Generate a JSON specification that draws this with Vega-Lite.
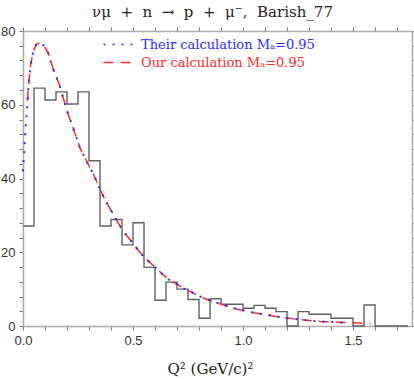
{
  "$schema": "https://vega.github.io/schema/vega-lite/v6.json",
  "width": 389,
  "height": 295,
  "autosize": {"type": "none"},
  "padding": {"left": 23, "top": 31, "right": 2, "bottom": 53},
  "title": {"text": "νμ\u00a0\u00a0+\u00a0\u00a0n\u00a0\u00a0→\u00a0\u00a0p\u00a0\u00a0+\u00a0\u00a0μ⁻,\u00a0\u00a0Barish_77", "font": "DejaVu Serif", "fontSize": 15, "fontWeight": "normal", "color": "#222", "anchor": "middle", "offset": 5, "dx": -5},
  "datasets": {
    "hist": [
      {"q2": 0.00, "n": 27.1}, {"q2": 0.05, "n": 64.5}, {"q2": 0.10, "n": 61.3}, {"q2": 0.15, "n": 63.5},
      {"q2": 0.20, "n": 60.2}, {"q2": 0.25, "n": 63.5}, {"q2": 0.30, "n": 44.8}, {"q2": 0.35, "n": 27.1},
      {"q2": 0.40, "n": 28.9}, {"q2": 0.45, "n": 22}, {"q2": 0.50, "n": 28}, {"q2": 0.55, "n": 15.9},
      {"q2": 0.60, "n": 7}, {"q2": 0.65, "n": 11.9}, {"q2": 0.70, "n": 10}, {"q2": 0.75, "n": 7.2},
      {"q2": 0.80, "n": 2.1}, {"q2": 0.85, "n": 7.4}, {"q2": 0.90, "n": 5.9}, {"q2": 0.95, "n": 5.9},
      {"q2": 1.00, "n": 4.8}, {"q2": 1.05, "n": 5.6}, {"q2": 1.10, "n": 4.8}, {"q2": 1.15, "n": 3.9},
      {"q2": 1.20, "n": 0}, {"q2": 1.25, "n": 3.9}, {"q2": 1.30, "n": 3.2}, {"q2": 1.35, "n": 3.2},
      {"q2": 1.40, "n": 2.1}, {"q2": 1.45, "n": 2.1}, {"q2": 1.50, "n": 0}, {"q2": 1.55, "n": 5.7},
      {"q2": 1.60, "n": 0}, {"q2": 1.75, "n": 0}
    ],
    "curves": [
      {"series": "Their calculation Mₐ=0.95", "q2": 0.000, "y": 42},
      {"series": "Their calculation Mₐ=0.95", "q2": 0.005, "y": 47},
      {"series": "Their calculation Mₐ=0.95", "q2": 0.010, "y": 52},
      {"series": "Their calculation Mₐ=0.95", "q2": 0.015, "y": 56},
      {"series": "Their calculation Mₐ=0.95", "q2": 0.020, "y": 60.5},
      {"series": "Their calculation Mₐ=0.95", "q2": 0.027, "y": 66.5},
      {"series": "Their calculation Mₐ=0.95", "q2": 0.035, "y": 71},
      {"series": "Their calculation Mₐ=0.95", "q2": 0.047, "y": 74.5},
      {"series": "Their calculation Mₐ=0.95", "q2": 0.060, "y": 76.3},
      {"series": "Their calculation Mₐ=0.95", "q2": 0.077, "y": 76.8},
      {"series": "Their calculation Mₐ=0.95", "q2": 0.095, "y": 76},
      {"series": "Their calculation Mₐ=0.95", "q2": 0.115, "y": 74},
      {"series": "Their calculation Mₐ=0.95", "q2": 0.138, "y": 69.6},
      {"series": "Their calculation Mₐ=0.95", "q2": 0.165, "y": 65.5},
      {"series": "Their calculation Mₐ=0.95", "q2": 0.199, "y": 58.5},
      {"series": "Their calculation Mₐ=0.95", "q2": 0.236, "y": 52.3},
      {"series": "Their calculation Mₐ=0.95", "q2": 0.259, "y": 48.3},
      {"series": "Their calculation Mₐ=0.95", "q2": 0.290, "y": 44.6},
      {"series": "Their calculation Mₐ=0.95", "q2": 0.320, "y": 41.2},
      {"series": "Their calculation Mₐ=0.95", "q2": 0.358, "y": 36},
      {"series": "Their calculation Mₐ=0.95", "q2": 0.377, "y": 33.8},
      {"series": "Their calculation Mₐ=0.95", "q2": 0.414, "y": 29.9},
      {"series": "Their calculation Mₐ=0.95", "q2": 0.453, "y": 25.9},
      {"series": "Their calculation Mₐ=0.95", "q2": 0.499, "y": 22.5},
      {"series": "Their calculation Mₐ=0.95", "q2": 0.524, "y": 20.5},
      {"series": "Their calculation Mₐ=0.95", "q2": 0.550, "y": 18.7},
      {"series": "Their calculation Mₐ=0.95", "q2": 0.577, "y": 17.2},
      {"series": "Their calculation Mₐ=0.95", "q2": 0.605, "y": 15.7},
      {"series": "Their calculation Mₐ=0.95", "q2": 0.633, "y": 14.1},
      {"series": "Their calculation Mₐ=0.95", "q2": 0.665, "y": 12.5},
      {"series": "Their calculation Mₐ=0.95", "q2": 0.699, "y": 11.4},
      {"series": "Their calculation Mₐ=0.95", "q2": 0.729, "y": 10.2},
      {"series": "Their calculation Mₐ=0.95", "q2": 0.759, "y": 9.4},
      {"series": "Their calculation Mₐ=0.95", "q2": 0.797, "y": 8.2},
      {"series": "Their calculation Mₐ=0.95", "q2": 0.832, "y": 7.3},
      {"series": "Their calculation Mₐ=0.95", "q2": 0.868, "y": 6.6},
      {"series": "Their calculation Mₐ=0.95", "q2": 0.903, "y": 5.9},
      {"series": "Their calculation Mₐ=0.95", "q2": 0.941, "y": 5.1},
      {"series": "Their calculation Mₐ=0.95", "q2": 0.979, "y": 4.5},
      {"series": "Their calculation Mₐ=0.95", "q2": 1.014, "y": 4.1},
      {"series": "Their calculation Mₐ=0.95", "q2": 1.055, "y": 3.5},
      {"series": "Their calculation Mₐ=0.95", "q2": 1.090, "y": 3.2},
      {"series": "Their calculation Mₐ=0.95", "q2": 1.130, "y": 2.8},
      {"series": "Their calculation Mₐ=0.95", "q2": 1.170, "y": 2.4},
      {"series": "Their calculation Mₐ=0.95", "q2": 1.220, "y": 2.0},
      {"series": "Their calculation Mₐ=0.95", "q2": 1.280, "y": 1.6},
      {"series": "Their calculation Mₐ=0.95", "q2": 1.350, "y": 1.25},
      {"series": "Their calculation Mₐ=0.95", "q2": 1.420, "y": 1.0},
      {"series": "Their calculation Mₐ=0.95", "q2": 1.480, "y": 0.9},
      {"series": "Our calculation Mₐ=0.95", "q2": 0.020, "y": 61},
      {"series": "Our calculation Mₐ=0.95", "q2": 0.027, "y": 66.5},
      {"series": "Our calculation Mₐ=0.95", "q2": 0.035, "y": 71},
      {"series": "Our calculation Mₐ=0.95", "q2": 0.047, "y": 74.5},
      {"series": "Our calculation Mₐ=0.95", "q2": 0.060, "y": 76.3},
      {"series": "Our calculation Mₐ=0.95", "q2": 0.077, "y": 76.8},
      {"series": "Our calculation Mₐ=0.95", "q2": 0.095, "y": 76},
      {"series": "Our calculation Mₐ=0.95", "q2": 0.115, "y": 74},
      {"series": "Our calculation Mₐ=0.95", "q2": 0.138, "y": 69.6},
      {"series": "Our calculation Mₐ=0.95", "q2": 0.165, "y": 65.5},
      {"series": "Our calculation Mₐ=0.95", "q2": 0.199, "y": 58.5},
      {"series": "Our calculation Mₐ=0.95", "q2": 0.236, "y": 52.3},
      {"series": "Our calculation Mₐ=0.95", "q2": 0.259, "y": 48.3},
      {"series": "Our calculation Mₐ=0.95", "q2": 0.290, "y": 44.6},
      {"series": "Our calculation Mₐ=0.95", "q2": 0.320, "y": 41.2},
      {"series": "Our calculation Mₐ=0.95", "q2": 0.358, "y": 36},
      {"series": "Our calculation Mₐ=0.95", "q2": 0.377, "y": 33.8},
      {"series": "Our calculation Mₐ=0.95", "q2": 0.414, "y": 29.9},
      {"series": "Our calculation Mₐ=0.95", "q2": 0.453, "y": 25.9},
      {"series": "Our calculation Mₐ=0.95", "q2": 0.499, "y": 22.5},
      {"series": "Our calculation Mₐ=0.95", "q2": 0.524, "y": 20.5},
      {"series": "Our calculation Mₐ=0.95", "q2": 0.550, "y": 18.7},
      {"series": "Our calculation Mₐ=0.95", "q2": 0.577, "y": 17.2},
      {"series": "Our calculation Mₐ=0.95", "q2": 0.605, "y": 15.7},
      {"series": "Our calculation Mₐ=0.95", "q2": 0.633, "y": 14.1},
      {"series": "Our calculation Mₐ=0.95", "q2": 0.665, "y": 12.5},
      {"series": "Our calculation Mₐ=0.95", "q2": 0.699, "y": 11.4},
      {"series": "Our calculation Mₐ=0.95", "q2": 0.729, "y": 10.2},
      {"series": "Our calculation Mₐ=0.95", "q2": 0.759, "y": 9.4},
      {"series": "Our calculation Mₐ=0.95", "q2": 0.797, "y": 8.2},
      {"series": "Our calculation Mₐ=0.95", "q2": 0.832, "y": 7.3},
      {"series": "Our calculation Mₐ=0.95", "q2": 0.868, "y": 6.6},
      {"series": "Our calculation Mₐ=0.95", "q2": 0.903, "y": 5.9},
      {"series": "Our calculation Mₐ=0.95", "q2": 0.941, "y": 5.1},
      {"series": "Our calculation Mₐ=0.95", "q2": 0.979, "y": 4.5},
      {"series": "Our calculation Mₐ=0.95", "q2": 1.014, "y": 4.1},
      {"series": "Our calculation Mₐ=0.95", "q2": 1.055, "y": 3.5},
      {"series": "Our calculation Mₐ=0.95", "q2": 1.090, "y": 3.2},
      {"series": "Our calculation Mₐ=0.95", "q2": 1.130, "y": 2.8},
      {"series": "Our calculation Mₐ=0.95", "q2": 1.170, "y": 2.4},
      {"series": "Our calculation Mₐ=0.95", "q2": 1.220, "y": 2.0},
      {"series": "Our calculation Mₐ=0.95", "q2": 1.280, "y": 1.6},
      {"series": "Our calculation Mₐ=0.95", "q2": 1.350, "y": 1.25},
      {"series": "Our calculation Mₐ=0.95", "q2": 1.420, "y": 1.0},
      {"series": "Our calculation Mₐ=0.95", "q2": 1.480, "y": 0.9},
      {"series": "Our calculation Mₐ=0.95", "q2": 1.530, "y": 0.8},
      {"series": "Our calculation Mₐ=0.95", "q2": 1.580, "y": 0.7}
    ]
  },
  "resolve": {"axis": {"x": "independent", "y": "independent"}},
  "layer": [
    {
      "data": {"name": "hist"},
      "mark": {"type": "line", "interpolate": "step-after", "color": "#606060", "strokeWidth": 1.4},
      "encoding": {
        "x": {"field": "q2", "type": "quantitative",
          "scale": {"domain": [0, 1.768], "nice": false, "zero": false},
          "axis": {"orient": "bottom", "title": "Q² (GeV/c)²", "titleFont": "DejaVu Serif", "titleFontSize": 15, "titleFontWeight": "normal", "titleColor": "#222", "titlePadding": 14, "titleX": 187, "titleAlign": "center",
            "values": [0, 0.1, 0.2, 0.3, 0.4, 0.5, 0.6, 0.7, 0.8, 0.9, 1.0, 1.1, 1.2, 1.3, 1.4, 1.5, 1.6, 1.7],
            "labelExpr": "abs(datum.value*2-round(datum.value*2))<0.001 ? format(datum.value,'.1f') : ''",
            "labelFont": "Liberation Sans", "labelFontSize": 13, "labelColor": "#333", "labelPadding": 4, "labelFlush": false, "labelOverlap": false,
            "ticks": true, "tickSize": 4, "tickColor": "#777", "tickWidth": 1, "domainColor": "#aaa", "domainWidth": 1.5, "grid": false,
            "encode": {"ticks": {"update": {"y2": {"signal": "abs(datum.value*2-round(datum.value*2))<0.001 ? -8 : -4"}}}}}},
        "y": {"field": "n", "type": "quantitative",
          "scale": {"domain": [0, 80], "nice": false},
          "axis": {"orient": "left", "title": null,
            "values": [0, 4, 8, 12, 16, 20, 24, 28, 32, 36, 40, 44, 48, 52, 56, 60, 64, 68, 72, 76, 80],
            "labelExpr": "datum.value % 20 == 0 ? datum.label : ''",
            "labelFont": "Liberation Sans", "labelFontSize": 13, "labelColor": "#333", "labelPadding": 4, "labelFlush": false, "labelOverlap": false,
            "ticks": true, "tickSize": 4, "tickColor": "#777", "tickWidth": 1, "domainColor": "#aaa", "domainWidth": 1.5, "grid": false,
            "encode": {"ticks": {"update": {"x2": {"signal": "datum.value % 20 == 0 ? 8 : 4"}}}}}}
      }
    },
    {
      "data": {"name": "curves"},
      "transform": [{"filter": "indexof(datum.series,'Our')>=0"}],
      "mark": {"type": "line", "strokeWidth": 1.5},
      "encoding": {
        "x": {"field": "q2", "type": "quantitative",
          "axis": {"orient": "top", "title": null, "labels": false,
            "values": [0, 0.1, 0.2, 0.3, 0.4, 0.5, 0.6, 0.7, 0.8, 0.9, 1.0, 1.1, 1.2, 1.3, 1.4, 1.5, 1.6, 1.7],
            "ticks": true, "tickSize": 4, "tickColor": "#777", "tickWidth": 1, "domainColor": "#aaa", "domainWidth": 1.5, "grid": false,
            "encode": {"ticks": {"update": {"y2": {"signal": "abs(datum.value*2-round(datum.value*2))<0.001 ? 8 : 4"}}}}}},
        "y": {"field": "y", "type": "quantitative",
          "axis": {"orient": "right", "title": null, "labels": false,
            "values": [0, 4, 8, 12, 16, 20, 24, 28, 32, 36, 40, 44, 48, 52, 56, 60, 64, 68, 72, 76, 80],
            "ticks": true, "tickSize": 4, "tickColor": "#777", "tickWidth": 1, "domainColor": "#aaa", "domainWidth": 1.5, "grid": false,
            "encode": {"ticks": {"update": {"x2": {"signal": "datum.value % 20 == 0 ? -8 : -4"}}}}}},
        "color": {"field": "series", "type": "nominal",
          "scale": {"domain": ["Their calculation Mₐ=0.95", "Our calculation Mₐ=0.95"], "range": ["#2a2aff", "#ff2a2a"]},
          "legend": {"orient": "none", "legendX": 89, "legendY": 7, "title": null, "symbolType": "M-3,0H3", "symbolSize": 100, "symbolStrokeWidth": 1.5,
            "labelFont": "DejaVu Serif", "labelFontSize": 13, "labelOffset": 16, "labelLimit": 0, "rowPadding": 4,
            "encode": {"labels": {"update": {"fill": {"signal": "indexof(datum.label,'Their')>=0 ? '#2a2aff' : '#ff2a2a'"}}}}}},
        "strokeDash": {"field": "series", "type": "nominal",
          "scale": {"domain": ["Their calculation Mₐ=0.95", "Our calculation Mₐ=0.95"], "range": [[2, 7], [10, 7]]},
          "legend": {"orient": "none", "legendX": 89, "legendY": 7, "title": null, "symbolType": "M-3,0H3", "symbolSize": 100, "symbolStrokeWidth": 1.5,
            "labelFont": "DejaVu Serif", "labelFontSize": 13, "labelOffset": 16, "labelLimit": 0, "rowPadding": 4,
            "encode": {"labels": {"update": {"fill": {"signal": "indexof(datum.label,'Their')>=0 ? '#2a2aff' : '#ff2a2a'"}}}}}}
      }
    },
    {
      "data": {"name": "curves"},
      "transform": [{"filter": "indexof(datum.series,'Their')>=0"}],
      "mark": {"type": "line", "strokeWidth": 2},
      "encoding": {
        "x": {"field": "q2", "type": "quantitative", "axis": null},
        "y": {"field": "y", "type": "quantitative", "axis": null},
        "color": {"field": "series", "type": "nominal"},
        "strokeDash": {"field": "series", "type": "nominal"}
      }
    }
  ],
  "config": {"view": {"stroke": null}, "background": "white"}
}
